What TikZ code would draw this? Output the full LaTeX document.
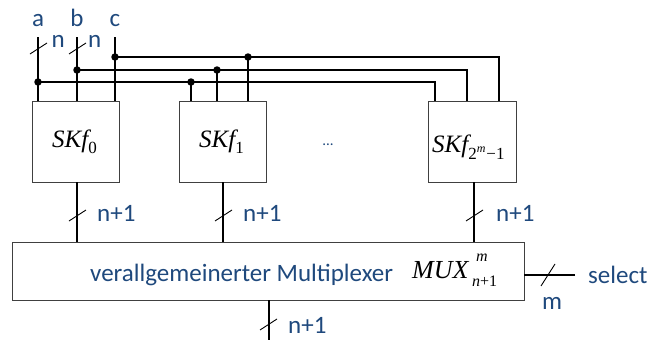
\documentclass[tikz,border=0pt]{standalone}
\usepackage{fontspec}
\setmainfont{Carlito}
\newfontfamily\tms{Liberation Serif}
\definecolor{lbl}{RGB}{31,73,125}
\begin{document}
\begin{tikzpicture}[x=1pt,y=-1pt,
  wire/.style={line width=2.7pt},
  box/.style={draw=black!75,line width=0.9pt,fill=white,inner sep=0pt},
  slash/.style={line width=0.9pt},
  lab/.style={text=lbl,font=\fontsize{25}{28}\selectfont,inner sep=0pt},
  skf/.style={font=\tms\fontsize{25}{26}\selectfont,inner sep=0pt},
  scr/.style={font=\tms\fontsize{16}{16}\selectfont,inner sep=0pt},
  dot/.style={circle,fill=black,inner sep=0pt,minimum size=7.5pt}]
\useasboundingbox (0,0) rectangle (649,340);
% boxes
\node[box,minimum width=87pt,minimum height=81pt] (b0) at (75.5,141.5) {};
\node[box,minimum width=87pt,minimum height=81pt] (b1) at (222.5,141.5) {};
\node[box,minimum width=88pt,minimum height=81pt] (b3) at (472,141.5) {};
\node[box,minimum width=512pt,minimum height=58pt] (mux) at (268,271) {};
% box labels
\node[skf,anchor=base west] (l0) at (52,147) {\itshape SKf\raisebox{-6pt}{\fontsize{17}{17}\selectfont\upshape 0}};
\node[skf,anchor=base west] (l1) at (199,147) {\itshape SKf\raisebox{-6pt}{\fontsize{17}{17}\selectfont\upshape 1}};
\node[skf,anchor=base west] (l3) at (432,152) {\itshape SKf\raisebox{-7pt}{\fontsize{17}{17}\selectfont\upshape 2\raisebox{7pt}{\fontsize{12}{12}\selectfont\itshape m}\kern1pt−1}};
\node[text=lbl,font=\fontsize{15}{15}\selectfont,inner sep=0pt,anchor=base] (dots) at (328,145) {...};
% mux text
\node[lab,anchor=base west] (muxt) at (90,281) {verallgemeinerter Multiplexer};
\node[skf,anchor=base west,font=\tms\fontsize{26}{26}\selectfont\itshape] (muxm) at (412,278) {MUX};
\node[scr,anchor=base west,font=\tms\fontsize{16}{16}\selectfont\itshape] (muxsup) at (476,261) {m};
\node[scr,anchor=base west] (muxsub) at (472,286) {\itshape n\upshape+1};
% input labels
\node[lab,anchor=base] (a) at (38,27) {a};
\node[lab,anchor=base] (b) at (77,27) {b};
\node[lab,anchor=base] (c) at (115,27) {c};
\coordinate (ta) at (38,37);
\coordinate (tb) at (77,37);
\coordinate (tc) at (115,37);
% junctions
\coordinate (ja) at (38,82);
\coordinate (jb) at (77,70);
\coordinate (jc) at (115,57);
\coordinate (k1a) at (191,82);
\coordinate (k1b) at (217,70);
\coordinate (k1c) at (248,57);
\coordinate (e3a) at (435,101);
\coordinate (e3b) at (467,101);
\coordinate (e3c) at (499,101);
% vertical input wires
\draw[wire] (ta) -- (ta |- b0.north);
\draw[wire] (tb) -- (tb |- b0.north);
\draw[wire] (tc) -- (tc |- b0.north);
\draw[wire] (k1a) -- (k1a |- b1.north);
\draw[wire] (k1b) -- (k1b |- b1.north);
\draw[wire] (k1c) -- (k1c |- b1.north);
% bus lines
\draw[wire] (ja) -| (e3a);
\draw[wire] (jb) -| (e3b);
\draw[wire] (jc) -| (e3c);
% dots
\foreach \p in {ja,jb,jc,k1a,k1b,k1c} \node[dot] at (\p) {};
% input slashes
\draw[slash] (30,54) -- (47,43);
\draw[slash] (69,54) -- (86,43);
\node[lab,anchor=base west] (na) at (51.5,48) {n};
\node[lab,anchor=base west] (nb) at (88,48) {n};
% outputs
\coordinate (o0) at (77,182);
\coordinate (o1) at (223,182);
\coordinate (o3) at (474,182);
\draw[wire] (o0) -- (o0 |- mux.north);
\draw[wire] (o1) -- (o1 |- mux.north);
\draw[wire] (o3) -- (o3 |- mux.north);
\draw[slash] (69,221) -- (86,210);
\draw[slash] (215,221) -- (232,210);
\draw[slash] (466,221) -- (483,210);
\node[lab,anchor=base west] (n0) at (97,221) {n+1};
\node[lab,anchor=base west] (n1) at (243,221) {n+1};
\node[lab,anchor=base west] (n3) at (496,221) {n+1};
% select
\coordinate (sel) at (575,275);
\draw[wire] (sel) -- (sel -| mux.east);
\draw[slash] (541,286) -- (555,264);
\node[lab,anchor=base west] (m) at (542,309) {m};
\node[lab,anchor=base west] (select) at (588,283) {select};
% bottom output
\coordinate (ob) at (269,340);
\draw[wire] (ob) -- (ob |- mux.south);
\draw[slash] (260,330) -- (277,319);
\node[lab,anchor=base west,text depth=0pt] (nb1) at (288,333) {n+1};
\end{tikzpicture}
\end{document}
